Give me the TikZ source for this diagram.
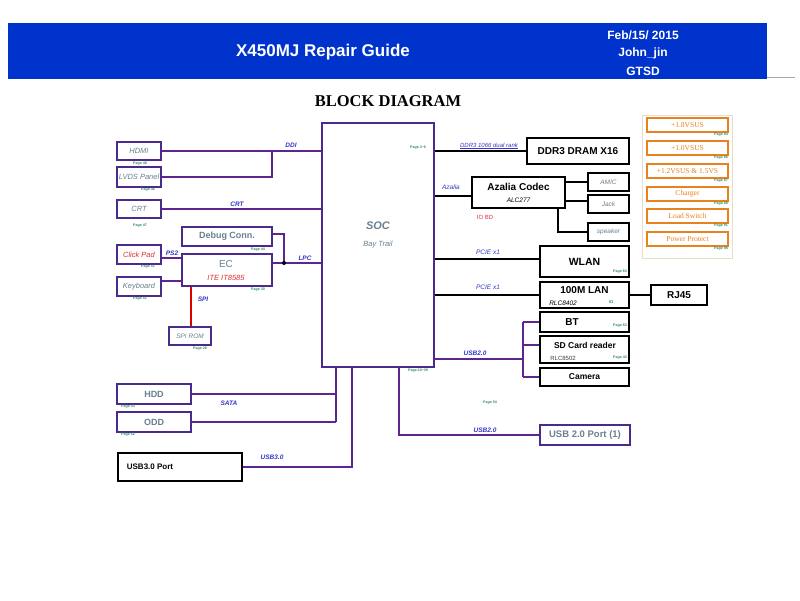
\documentclass[tikz,border=0pt]{standalone}
\usepackage{fontspec}
\setmainfont{Liberation Sans}
\newfontfamily\tnr{Liberation Serif}
\usetikzlibrary{calc}
\definecolor{hdrblue}{HTML}{0033CC}
\definecolor{pbord}{HTML}{4B2A8E}
\definecolor{pline}{HTML}{5E2590}
\definecolor{busblue}{HTML}{3535C8}
\definecolor{pagegreen}{HTML}{2A8A5A}
\definecolor{txtgray}{HTML}{6A8090}
\definecolor{porange}{HTML}{E8821E}
\definecolor{redtxt}{HTML}{E03030}
\definecolor{pframe}{HTML}{EADCCB}
\tikzset{
  pbox/.style={draw=pbord, line width=2pt, inner sep=0pt, fill=white},
  kbox/.style={draw=black, line width=2pt, inner sep=0pt, fill=white},
  obox/.style={draw=porange, line width=2pt, inner sep=0pt, text=porange, minimum width=81, minimum height=14, font=\tnr\fontsize{7.5}{8}\selectfont},
  pwire/.style={draw=pline, line width=2pt},
  kwire/.style={draw=black, line width=2pt},
  bus/.style={text=busblue, font=\bfseries\itshape\fontsize{6.5}{7}\selectfont, inner sep=0pt},
  busl/.style={text=busblue, font=\itshape\fontsize{6.5}{7}\selectfont, inner sep=0pt},
  pg/.style={text=pagegreen, font=\bfseries\fontsize{3.6}{4}\selectfont, inner sep=0pt},
  gtxt/.style={text=txtgray, font=\itshape\fontsize{7.5}{8}\selectfont},
  btxt/.style={font=\bfseries\fontsize{10}{11}\selectfont},
}
\begin{document}
\begin{tikzpicture}[x=1pt,y=-1pt]
\useasboundingbox (0,0) rectangle (800,600);
\fill[white] (0,0) rectangle (800,600);
% header
\fill[hdrblue] (8,23) rectangle (767,79);
\draw[gray!70, line width=1.2pt] (767,77.5) -- (795,77.5);
\node[text=white, font=\bfseries\fontsize{17}{19}\selectfont] (title) at (323,52) {X450MJ Repair Guide};
\node[text=white, font=\bfseries\fontsize{12}{13}\selectfont] (date) at (643,35) {Feb/15/ 2015};
\node[text=white, font=\bfseries\fontsize{12}{13}\selectfont] (auth) at (643,53) {John\_jin};
\node[text=white, font=\bfseries\fontsize{12}{13}\selectfont] (dept) at (643,71) {GTSD};
\node[font=\tnr\bfseries\fontsize{16.5}{18}\selectfont] (bd) at (388,101) {BLOCK DIAGRAM};

% SOC
\node[pbox, minimum width=112, minimum height=244] (soc) at (378,245) {};
\node[text=txtgray, font=\bfseries\itshape\fontsize{11}{12}\selectfont] (soct) at (378,226) {SOC};
\node[text=txtgray, font=\itshape\fontsize{7.5}{8}\selectfont] (socs) at (378,245) {Bay Trail};
\node[pg] (pgsoc1) at (418,148) {Page 3\textasciitilde 6};
\node[pg] (pgsoc2) at (418,371) {Page 20\textasciitilde 39};

% left boxes
\node[pbox, gtxt, minimum width=44, minimum height=18] (hdmi) at (139,151) {HDMI};
\node[pbox, gtxt, minimum width=44, minimum height=20] (lvds) at (139,177) {LVDS Panel};
\node[pbox, gtxt, minimum width=44, minimum height=18] (crt) at (139,209) {CRT};
\node[pbox, minimum width=44, minimum height=19, text=redtxt, font=\itshape\fontsize{7.5}{8}\selectfont] (click) at (139,254.5) {Click Pad};
\node[pbox, gtxt, minimum width=44, minimum height=19] (kbd) at (139,286.5) {Keyboard};
\node[pbox, minimum width=90, minimum height=19, text=txtgray, font=\bfseries\fontsize{9}{10}\selectfont] (debug) at (227,236.5) {Debug Conn.};
\node[pbox, minimum width=90, minimum height=32] (ec) at (227,270) {};
\node[text=txtgray, font=\fontsize{10}{11}\selectfont] (ect) at (226,264) {EC};
\node[text=redtxt, font=\itshape\fontsize{7.5}{8}\selectfont] (ecs) at (226,277.5) {ITE IT8585};
\node[pbox, gtxt, minimum width=42, minimum height=18, font=\itshape\fontsize{6.5}{7}\selectfont] (spirom) at (190,336) {SPI ROM};

\node[pg] (p48) at (140,163.5) {Page 48};
\node[pg] (p46) at (148,189.5) {Page 46};
\node[pg] (p47) at (140,226) {Page 47};
\node[pg] (p44) at (258,250) {Page 44};
\node[pg] (p51a) at (148,267) {Page 51};
\node[pg] (p30) at (258,290) {Page 30};
\node[pg] (p51b) at (140,298.5) {Page 51};
\node[pg] (p28) at (200,348.5) {Page 28};

% left connectors
\coordinate (ddij) at (272,151);
\draw[pwire] (hdmi.east) -- (hdmi.east -| soc.west);
\draw[pwire] (lvds.east) -- (lvds.east -| ddij) -- (ddij);
\draw[pwire] (crt.east) -- (crt.east -| soc.west);
\coordinate (ps2y) at (0,258);
\draw[pwire] (click.east |- ps2y) -- (ec.west |- ps2y);
\coordinate (kby) at (0,281);
\draw[pwire] (kbd.east |- kby) -- (ec.west |- kby);
\coordinate (dbgx) at (284,234);
\coordinate (lpcj) at (284,263);
\draw[pwire] (debug.east |- dbgx) -- (dbgx) -- (lpcj);
\draw[pwire] (ec.east |- lpcj) -- (lpcj -| soc.west);
\fill[black] (lpcj) circle (2);
\coordinate (spix) at (191,0);
\draw[line width=2pt, draw=red!85!black] (ec.south -| spix) -- (spirom.north -| spix);

\node[bus] (ddi) at (291,145) {DDI};
\node[bus] (crtl) at (237,204) {CRT};
\node[bus] (ps2) at (172,253) {PS2};
\node[bus] (lpc) at (305,258) {LPC};
\node[bus] (spi) at (203,299) {SPI};

% right side
\node[kbox, btxt, minimum width=102, minimum height=26] (ddr) at (578,151) {DDR3 DRAM X16};
\draw[kwire] (ddr.west -| soc.east) -- (ddr.west);
\node[busl, font=\itshape\fontsize{6}{7}\selectfont] (ddrl) at (489,146) {\underline{DDR3 1066 dual rank}};

\node[kbox, minimum width=93, minimum height=31] (az) at (518.5,192.5) {};
\node[font=\bfseries\fontsize{10}{11}\selectfont] (azt) at (518.5,187) {Azalia Codec};
\node[font=\itshape\fontsize{6.5}{7}\selectfont] (azs) at (518.5,200) {ALC277};
\coordinate (azy) at (0,196);
\draw[kwire] (soc.east |- azy) -- (az.west |- azy);
\node[busl] (azl) at (451,187) {Azalia};
\node[text=redtxt, font=\fontsize{6}{7}\selectfont] (iobd) at (485,217) {IO BD};

\node[kbox, gtxt, font=\itshape\fontsize{6.5}{7}\selectfont, minimum width=41, minimum height=18] (amic) at (608.5,182) {AMIC};
\node[kbox, gtxt, font=\itshape\fontsize{6.5}{7}\selectfont, minimum width=41, minimum height=18] (jack) at (608.5,204) {Jack};
\node[kbox, gtxt, font=\itshape\fontsize{6.5}{7}\selectfont, minimum width=41, minimum height=18] (spk) at (608.5,232) {speaker};
\draw[kwire] (az.east |- amic.west) -- (amic.west);
\coordinate (jy) at (0,201);
\draw[kwire] (az.east |- jy) -- (jack.west |- jy);
\coordinate (spkx) at (558,0);
\draw[kwire] (az.south -| spkx) -- (spkx |- spk.west) -- (spk.west);

\node[kbox, minimum width=89, minimum height=31, font=\bfseries\fontsize{10.5}{11}\selectfont] (wlan) at (584.5,261.5) {WLAN};
\node[pg] (p63a) at (620,271.5) {Page 63};
\coordinate (wy) at (0,259);
\draw[kwire] (soc.east |- wy) -- (wlan.west |- wy);
\node[busl] (pcie1) at (488,252) {PCIE x1};

\node[kbox, minimum width=89, minimum height=26] (lan) at (584.5,295) {};
\node[font=\bfseries\fontsize{10}{11}\selectfont] (lant) at (584.5,290.5) {100M LAN};
\node[font=\itshape\fontsize{6.5}{7}\selectfont] (lans) at (563,303) {RLC8402};
\node[pg, font=\bfseries\fontsize{4}{4}\selectfont] (lanio) at (611,302) {IO};
\draw[kwire] (soc.east |- lan.west) -- (lan.west);
\node[busl] (pcie2) at (488,287) {PCIE x1};
\node[kbox, btxt, minimum width=56, minimum height=20] (rj) at (679,295) {RJ45};
\draw[kwire] (lan.east) -- (lan.east -| rj.west);

\node[kbox, minimum width=89, minimum height=20] (bt) at (584.5,322) {};
\node[font=\bfseries\fontsize{10}{11}\selectfont] (btt) at (572,322) {BT};
\node[pg] (p63b) at (620,326) {Page 63};
\node[kbox, minimum width=89, minimum height=27] (sd) at (584.5,349.5) {};
\node[font=\bfseries\fontsize{8.5}{9}\selectfont] (sdt) at (585,345) {SD Card reader};
\node[font=\fontsize{6}{7}\selectfont, text=black!75] (sds) at (563,358) {RLC8502};
\node[pg] (p43) at (620,358) {Page 43};
\node[kbox, minimum width=89, minimum height=18, font=\bfseries\fontsize{8.5}{9}\selectfont] (cam) at (584.5,377) {Camera};

\coordinate (usbj) at (523,359);
\draw[pwire] (soc.east |- usbj) -- (usbj);
\draw[pwire] (usbj |- bt.west) -- (usbj |- cam.west);
\draw[pwire] (usbj |- bt.west) -- (bt.west);
\coordinate (sdy) at (0,345);
\draw[pwire] (usbj |- sdy) -- (sd.west |- sdy);
\draw[pwire] (usbj |- cam.west) -- (cam.west);
\node[bus] (usb2a) at (475,353) {USB2.0};

\node[pbox, minimum width=90, minimum height=20, text=txtgray, font=\bfseries\fontsize{9.5}{10}\selectfont] (usb2p) at (585,435) {USB 2.0 Port (1)};
\coordinate (u2x) at (399,0);
\draw[pwire] (soc.south -| u2x) -- (u2x |- usb2p.west) -- (usb2p.west);
\node[bus] (usb2b) at (485,430) {USB2.0};
\node[pg] (p54) at (490,403) {Page 54};

% bottom left
\node[pbox, minimum width=74, minimum height=20, text=txtgray, font=\bfseries\fontsize{9}{10}\selectfont] (hdd) at (154,394) {HDD};
\node[pbox, minimum width=74, minimum height=20, text=txtgray, font=\bfseries\fontsize{9}{10}\selectfont] (odd) at (154,422) {ODD};
\node[pg] (p53) at (128,407) {Page 53};
\node[pg] (p52) at (128,435) {Page 52};
\coordinate (satax) at (336,0);
\draw[pwire] (hdd.east) -- (hdd.east -| satax);
\draw[pwire] (odd.east) -- (odd.east -| satax);
\draw[pwire] (soc.south -| satax) -- (satax |- odd.east);
\node[bus] (sata) at (229,403) {SATA};

\node[kbox, minimum width=124, minimum height=28] (usb3) at (180,467) {};
\node[font=\bfseries\fontsize{8}{9}\selectfont] (usb3t) at (150,467) {USB3.0 Port};
\coordinate (u3x) at (352,0);
\draw[pwire] (usb3.east) -- (usb3.east -| u3x) -- (u3x |- soc.south);
\node[bus] (usb3l) at (272,457) {USB3.0};

% power
\node[draw=pframe, line width=1pt, minimum width=90, minimum height=143, inner sep=0pt] (pwr) at (687,186.5) {};
\node[obox] (v18) at (687.5,125) {+1.8VSUS};
\node[obox] (v10) at (687.5,148) {+1.0VSUS};
\node[obox] (v12) at (687.5,171) {+1.2VSUS \& 1.5VS};
\node[obox] (chg) at (687.5,194) {Charger};
\node[obox] (lsw) at (687.5,216) {Load Switch};
\node[obox] (pp) at (687.5,239) {Power Protect};
\node[pg] (p84) at (721,135) {Page 84};
\node[pg] (p86) at (721,158) {Page 86};
\node[pg] (p87) at (721,181) {Page 87};
\node[pg] (p88) at (721,204) {Page 88};
\node[pg] (p91) at (721,226) {Page 91};
\node[pg] (p98) at (721,249) {Page 98};
\end{tikzpicture}
\end{document}
